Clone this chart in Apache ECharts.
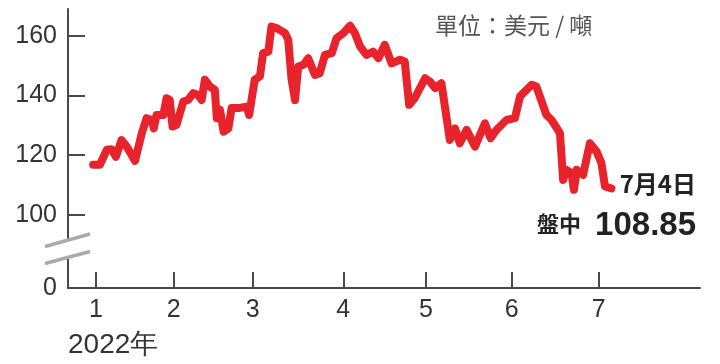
<!DOCTYPE html>
<html><head><meta charset="utf-8">
<script src="https://cdn.jsdelivr.net/npm/echarts@6/dist/echarts.min.js"></script>
<style>html,body{margin:0;padding:0;background:#fff;}#c{width:720px;height:364px;}</style>
</head><body><div id="c"></div>
<script>
// x in trading-day units since start of Jan 2022
const days = [-0.7,1.0,2.7,3.9,5.0,6.4,7.7,9.8,11.5,12.7,14.0,14.5,15.2,16.9,17.7,18.5,19.2,20.2,21.9,23.1,24.4,25.6,26.5,27.3,28.6,29.8,30.3,31.1,32.0,33.2,34.0,35.7,37.8,38.4,39.8,41.1,41.9,43.2,44.0,45.3,47.4,48.2,49.0,49.9,50.7,52.0,53.2,54.9,56.1,57.4,59.1,60.3,62.0,63.7,64.9,66.2,67.8,69.5,70.8,72.4,74.1,76.2,77.4,78.5,79.9,82.5,83.7,85.0,86.6,88.7,90.0,91.2,92.9,95.0,97.5,98.9,100.4,102.9,105.0,106.3,109.2,110.4,112.9,114.2,116.3,117.1,117.9,119.2,119.8,120.5,122.1,123.8,125.5,126.7,127.6,129.2];
const prices = [116.8,116.8,121.8,122,119.5,125.1,122.9,118.1,127.4,132.4,131.8,129,133.5,133.5,139.1,138.5,129.6,130.2,138,138.5,140.8,140.2,138.5,145.3,143,141.9,132.4,135.2,127.9,129,135.8,135.8,136.3,133.5,145.3,146.4,154.2,154.7,163.1,162.6,160.9,158.7,145.8,138.5,149.7,150.3,152.5,146.9,147.5,153.6,154.2,159.2,160.9,163.4,160.9,156.5,153.6,154.7,152.5,157,150.8,152,151.4,136.9,139.1,145.8,144.7,142.5,144.1,125.1,129,124,128.5,122.9,130.7,125.7,128.5,131.8,132.4,139.7,143.6,143,133.5,131.8,127.4,111.7,115.1,114,108.4,115.1,113.4,124,121.2,117.3,109.5,108.85];
const monthTicks = [0,19.5,39.3,62,82.7,104.2,126];
const monthLabels = ['1','2','3','4','5','6','7'];
const yTicks = [100,120,140,160];
const yBase = 75.5; // shown as "0" below the axis break
const yearLabel = '2022年';
const unitLabel = '單位：美元 / 噸';
const dateLabel = '7月4日';
const lastPrefix = '盤中';
const lastValue = '108.85';

const chart = echarts.init(document.getElementById('c'), null, {renderer:'canvas'});
const axisColor = '#4a4a4a';
const font = '"Liberation Sans", Arial, sans-serif';
const cjk = '"Noto Sans CJK TC", "Liberation Sans", sans-serif';
chart.setOption({
  animation:false,
  grid:{left:68,right:20,top:9,bottom:76,containLabel:false},
  xAxis:{type:'value',min:-7,max:151.4,
    splitLine:{show:false},
    axisLine:{show:true,onZero:false,lineStyle:{color:axisColor,width:2}},
    axisTick:{show:true,inside:true,length:16,customValues:monthTicks,lineStyle:{color:axisColor,width:2}},
    axisLabel:{customValues:monthTicks,margin:10,fontSize:25,color:'#333',fontFamily:font,
      formatter:v=>{const i=monthTicks.indexOf(v);return i>=0?monthLabels[i]:'';}}
  },
  yAxis:{type:'value',min:yBase,max:169,
    splitLine:{show:false},
    axisLine:{show:true,onZero:false,lineStyle:{color:axisColor,width:2}},
    axisTick:{show:true,inside:true,length:17,customValues:yTicks,lineStyle:{color:axisColor,width:2}},
    axisLabel:{customValues:[yBase].concat(yTicks),margin:11,fontSize:25,color:'#333',fontFamily:font,
      formatter:v=>v<90?'0':String(v)}
  },
  series:[{type:'line',data:days.map((d,i)=>[d,prices[i]]),showSymbol:false,
    lineStyle:{color:'#e8232b',width:8,join:'round',cap:'round'},z:3}],
  graphic:[
    {type:'rect',shape:{x:63,y:240,width:10,height:19},style:{fill:'#fff'},z:10},
    {type:'line',shape:{x1:45,y1:246.5,x2:90,y2:234},style:{stroke:'#aaa',lineWidth:3.5},z:11},
    {type:'line',shape:{x1:45,y1:263.5,x2:90,y2:251.5},style:{stroke:'#aaa',lineWidth:3.5},z:11},
    {type:'text',left:68,top:331,style:{text:yearLabel,fill:'#333',font:'28px '+font},z:10},
    {type:'text',left:435,top:14,style:{text:unitLabel,fill:'#555',font:'23px '+cjk},z:10},
    {type:'text',right:24,top:172,style:{text:dateLabel,fill:'#222',font:'bold 24px '+cjk},z:10},
    {type:'text',right:24,top:209,style:{text:lastValue,fill:'#222',font:'bold 33px '+font},z:10},
    {type:'text',left:537,top:213,style:{text:lastPrefix,fill:'#222',font:'bold 22px '+cjk},z:10}
  ]
});
</script></body></html>
